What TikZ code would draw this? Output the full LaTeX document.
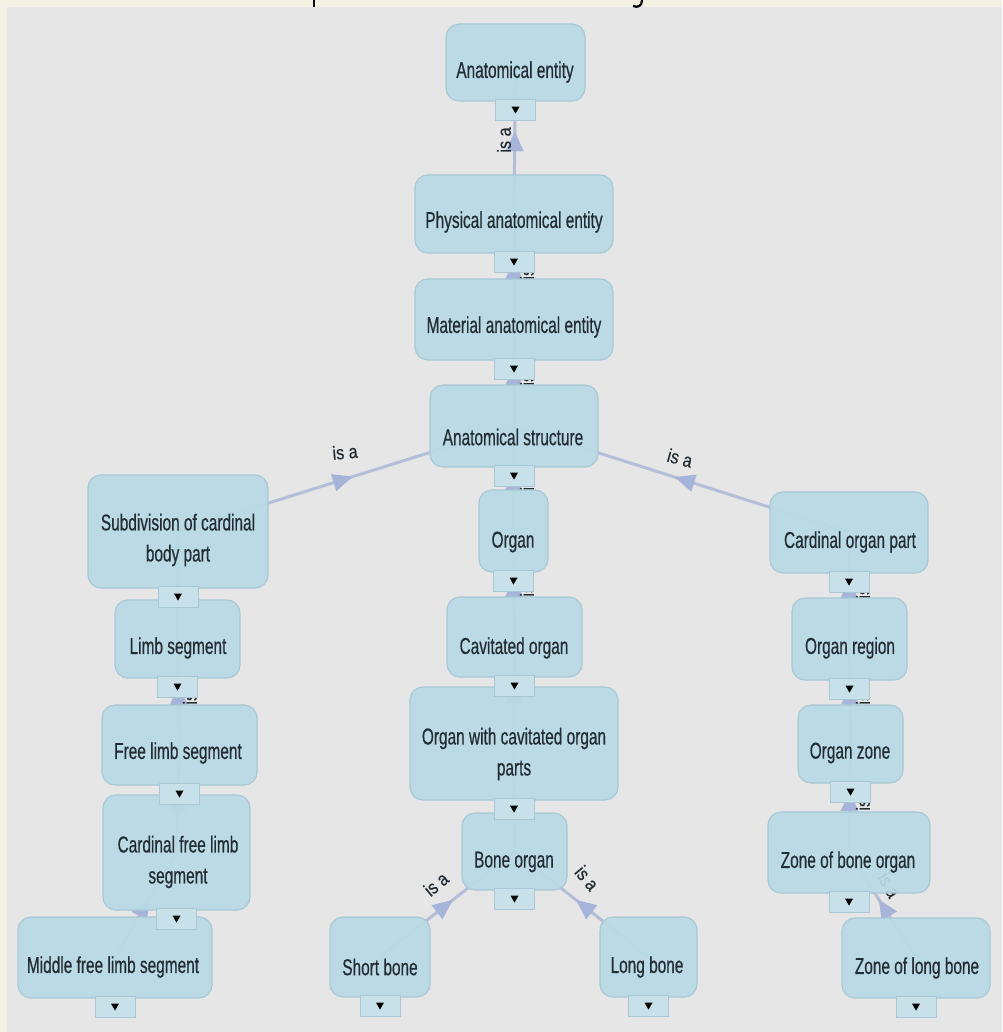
\documentclass[tikz,border=0pt]{standalone}
\usepackage{fontspec}
\setmainfont[FakeStretch=0.67,FakeBold=0.5]{Liberation Sans}
\newfontfamily\relfont[FakeStretch=0.85,FakeBold=0.5]{Liberation Sans}
\usetikzlibrary{decorations.markings}
\definecolor{bg}{HTML}{E6E6E6}
\definecolor{cream}{HTML}{F4F1E3}
\definecolor{boxfill}{HTML}{B9DAE5}
\definecolor{boxline}{HTML}{A8C8D5}
\definecolor{tabfill}{HTML}{C8E0E9}
\definecolor{edge}{HTML}{B5BED8}
\definecolor{head}{HTML}{A5B4D8}
\definecolor{ink}{HTML}{222D33}
\pgfdeclarelayer{edges}
\pgfdeclarelayer{front}
\pgfsetlayers{edges,main,front}
\tikzset{
  concept/.style={draw=boxline, line width=1.2pt, fill=boxfill, fill opacity=0.93,
    rounded corners=13pt, inner sep=0pt},
  caption/.style={text=ink, font=\fontsize{23}{31}\selectfont, align=center, inner sep=0pt},
  link/.style={draw=edge, line width=3pt, postaction={decorate},
    decoration={markings, mark=at position 0.5 with
      {\fill[head] (7pt,0) -- (-13pt,9pt) -- (-13pt,-9pt) -- cycle;}}},
  rel/.style={text=ink, font=\relfont\fontsize{19}{19}\selectfont, inner sep=0pt},
  tabbox/.style={draw=boxline, line width=1pt, fill=tabfill, minimum width=40pt,
    minimum height=21pt, inner sep=0pt, anchor=north,
    path picture={\fill[black] ([xshift=-4pt,yshift=3pt]path picture bounding box.center)
      -- ++(8pt,0) -- ++(-4pt,-7pt) -- cycle;}},
}
\begin{document}
\begin{tikzpicture}[x=1pt,y=-1pt]
\useasboundingbox (0,0) rectangle (1002,1032);

% concept boxes
\node[concept, minimum width=139pt, minimum height=77pt] (AE)    at (515.5,62.5) {};
\node[concept, minimum width=198pt, minimum height=78pt] (PAE)   at (514,214) {};
\node[concept, minimum width=198pt, minimum height=81pt] (MAE)   at (514,319.5) {};
\node[concept, minimum width=168pt, minimum height=82pt] (AS)    at (514,426) {};
\node[concept, minimum width=69pt,  minimum height=82pt] (ORG)   at (513.5,531) {};
\node[concept, minimum width=135pt, minimum height=80pt] (CO)    at (514.5,637) {};
\node[concept, minimum width=208pt, minimum height=113pt] (OWC)  at (514,743.5) {};
\node[concept, minimum width=105pt, minimum height=77pt] (BO)    at (514.5,851.5) {};
\node[concept, minimum width=100pt, minimum height=80pt] (SB)    at (380,957) {};
\node[concept, minimum width=97pt,  minimum height=80pt] (LB)    at (648.5,957) {};
\node[concept, minimum width=180pt, minimum height=113pt] (SCBP) at (178,531.5) {};
\node[concept, minimum width=125pt, minimum height=78pt] (LS)    at (177.5,639) {};
\node[concept, minimum width=155pt, minimum height=80pt] (FLS)   at (179.5,745) {};
\node[concept, minimum width=147pt, minimum height=115pt] (CFLS) at (176.5,852.5) {};
\node[concept, minimum width=194pt, minimum height=81pt] (MFLS)  at (115,957.5) {};
\node[concept, minimum width=158pt, minimum height=81pt] (COP)   at (849,532.5) {};
\node[concept, minimum width=115pt, minimum height=82pt] (OR)    at (849.5,639) {};
\node[concept, minimum width=105pt, minimum height=78pt] (OZ)    at (850.5,744) {};
\node[concept, minimum width=162pt, minimum height=81pt] (ZBO)   at (849,852.5) {};
\node[concept, minimum width=148pt, minimum height=80pt] (ZLB)   at (916,958) {};

% captions
\node[caption] (AE-t)   at (515,72)  {Anatomical entity};
\node[caption] (PAE-t)  at (514,222) {Physical anatomical entity};
\node[caption] (MAE-t)  at (514,327) {Material anatomical entity};
\node[caption] (AS-t)   at (513,437) {Anatomical structure};
\node[caption] (ORG-t)  at (513,542) {Organ};
\node[caption] (CO-t)   at (514,648) {Cavitated organ};
\node[caption] (OWC-t)  at (514,754) {Organ with cavitated organ\\parts};
\node[caption] (BO-t)   at (514,862) {Bone organ};
\node[caption] (SB-t)   at (380,967) {Short bone};
\node[caption] (LB-t)   at (647,967) {Long bone};
\node[caption] (SCBP-t) at (178,540) {Subdivision of cardinal\\body part};
\node[caption] (LS-t)   at (178,648) {Limb segment};
\node[caption] (FLS-t)  at (178,753) {Free limb segment};
\node[caption] (CFLS-t) at (178,862) {Cardinal free limb\\segment};
\node[caption] (MFLS-t) at (113,967) {Middle free limb segment};
\node[caption] (COP-t)  at (850,542) {Cardinal organ part};
\node[caption] (OR-t)   at (850,648) {Organ region};
\node[caption] (OZ-t)   at (850,753) {Organ zone};
\node[caption] (ZBO-t)  at (848,862) {Zone of bone organ};
\node[caption] (ZLB-t)  at (917,968) {Zone of long bone};

% expand tabs under every box
\begin{pgfonlayer}{front}
\foreach \n in {AE,PAE,MAE,AS,ORG,CO,OWC,BO,SB,LB,SCBP,LS,FLS,CFLS,MFLS,COP,OR,OZ,ZBO,ZLB}
  \node[tabbox] (\n-tab) at ([yshift=3pt]\n.south) {};
\end{pgfonlayer}

\begin{pgfonlayer}{edges}
% canvas
\fill[bg] (0,0) rectangle (1002,1032);
\fill[cream] (0,0) rectangle (1002,7);
\fill[cream] (0,0) rectangle (7,1032);
\draw[line width=2.2pt] (314,0) -- (314,7);
\draw[line width=2.2pt] (642,0) .. controls (642,6) and (638,8) .. (633,6);

% is-a links, child to parent, centre to centre
\draw[link] (PAE.center) -- (AE.center);
\draw[link] (MAE.center) -- (PAE.center);
\draw[link] (AS.center) -- (MAE.center);
\draw[link] (SCBP.center) -- (AS.center);
\draw[link] (ORG.center) -- (AS.center);
\draw[link] (COP.center) -- (AS.center);
\draw[link] (CO.center) -- (ORG.center);
\draw[link] (OWC.center) -- (CO.center);
\draw[link] (BO.center) -- (OWC.center);
\draw[link] (SB.center) -- (BO.center);
\draw[link] (LB.center) -- (BO.center);
\draw[link] (LS.center) -- (SCBP.center);
\draw[link] (FLS.center) -- (LS.center);
\draw[link] (CFLS.center) -- (FLS.center);
\draw[link] (MFLS.center) -- (CFLS.center);
\draw[link] (OR.center) -- (COP.center);
\draw[link] (OZ.center) -- (OR.center);
\draw[link] (ZBO.center) -- (OZ.center);
\draw[link] (ZLB.center) -- (ZBO.center);

% link labels
\node[rel, rotate=90]  (r1)  at (504,140) {is a};
\node[rel, rotate=5]   (r2)  at (345,452) {is a};
\node[rel, rotate=-15] (r3)  at (680,458) {is a};
\node[rel, rotate=40]  (r4)  at (436,884) {is a};
\node[rel, rotate=-50] (r5)  at (587,878) {is a};
\node[rel, rotate=-60] (r6)  at (889,885) {is a};
\node[rel, rotate=90]  (r7)  at (527,267) {is a};
\node[rel, rotate=90]  (r8)  at (527,373) {is a};
\node[rel, rotate=90]  (r9)  at (527,478) {is a};
\node[rel, rotate=90]  (r10) at (527,584) {is a};
\node[rel, rotate=90]  (r11) at (190,692) {is a};
\node[rel, rotate=90]  (r12) at (863,586) {is a};
\node[rel, rotate=90]  (r13) at (863,692) {is a};
\node[rel, rotate=90]  (r14) at (863,798) {is a};
\end{pgfonlayer}
\end{tikzpicture}
\end{document}
